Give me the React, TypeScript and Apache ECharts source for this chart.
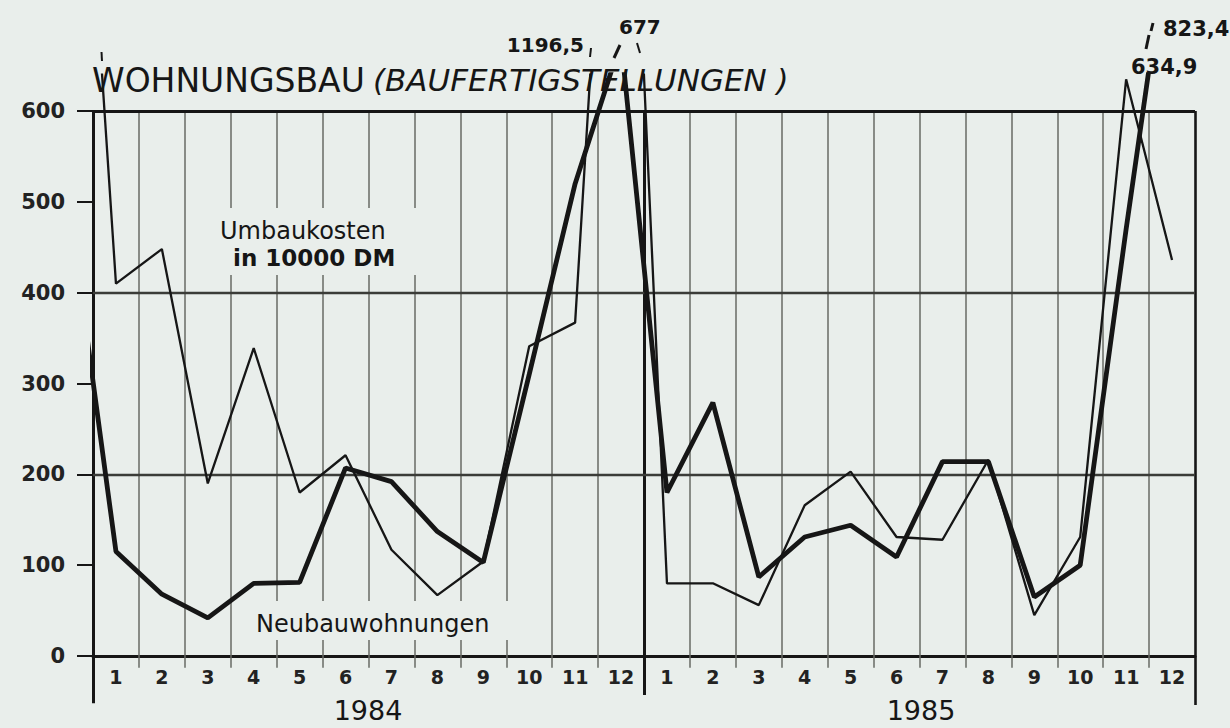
import React, { useEffect, useRef } from 'react';
import * as echarts from 'echarts';

// Months shown on the x axis (1984 then 1985)
const monthLabels = ['1','2','3','4','5','6','7','8','9','10','11','12','1','2','3','4','5','6','7','8','9','10','11','12'];
const yearLabels = ['1984', '1985'];
const yTicks = [0, 100, 200, 300, 400, 500, 600];
const yGridValues = [200, 400, 600];

// Index 0 = December 1983 (runs in from the left edge), 1..24 = Jan 1984 .. Dec 1985
const neubauwohnungen = [490, 115, 68, 42, 80, 81, 207, 192, 137, 103, 310, 520, 677, 180, 279, 87, 131, 144, 109, 214, 214, 65, 100, 470, 823.4];
const umbaukosten = [1170, 410, 448, 190, 339, 180, 221, 117, 67, 104, 341, 367, 1196.5, 80, 80, 56, 166, 203, 131, 128, 216, 45, 131, 634.9, 436];

const offScaleNotes = ['1196,5', '677', '634,9', '823,4'];

const BG = '#e9eeeb';
const INK = '#161616';
const GRID = '#676a64';
const FONT = '"DejaVu Sans", "Liberation Sans", sans-serif';

const Y_MIN = -60;
const Y_MAX = 640;
const GRID_TOP = 74.67;
const GRID_BOTTOM = 17.5;

export default function App() {
  const ref = useRef<HTMLDivElement>(null);

  useEffect(() => {
    const chart = echarts.init(ref.current!, null, { renderer: 'svg' });

    const bounds = Array.from({ length: monthLabels.length + 1 }, (_, i) => i + 0.5);
    const last = bounds.length - 1;
    const half = monthLabels.length / 2;
    const xMin = bounds[0];
    const xMax = bounds[last];
    const yTop = yTicks[yTicks.length - 1];

    // pixel distance between the grid bottom (Y_MIN) and the zero line
    const gridHeight = 728 - GRID_TOP - GRID_BOTTOM;
    const zeroOffset = (-Y_MIN / (Y_MAX - Y_MIN)) * gridHeight;

    const vLines = bounds.map((b, i) => {
      const isLeft = i === 0;
      const isYear = i === half;
      const isRight = i === last;
      const bottom = isLeft ? -52 : isRight ? -54 : isYear ? -43 : -13;
      const width = isLeft || isYear ? 3 : isRight ? 2.6 : 1.5;
      const color = isLeft || isYear || isRight ? INK : GRID;
      return [
        { coord: [b, bottom], lineStyle: { width, color, type: 'solid' } },
        { coord: [b, yTop] },
      ];
    });
    const hLines = yGridValues.map((v) => [
      { coord: [xMin, v], lineStyle: { width: v === yTop ? 3 : 2.4, color: v === yTop ? INK : '#3b3c38', type: 'solid' } },
      { coord: [xMax, v] },
    ]);

    const txt = (text: string, x: number, y: number, font: string, align = 'left', z = 10) => ({
      type: 'text',
      x,
      y,
      z,
      silent: true,
      style: {
        text,
        font,
        fill: INK,
        align,
        verticalAlign: 'middle',
        textAlign: align,
        textVerticalAlign: 'middle',
      },
    });
    const mark = (x1: number, y1: number, x2: number, y2: number, w = 2.5) => ({
      type: 'line',
      z: 10,
      silent: true,
      shape: { x1, y1, x2, y2 },
      style: { stroke: INK, lineWidth: w },
    });

    chart.setOption({
      animation: false,
      backgroundColor: BG,
      grid: {
        left: 93,
        right: 35,
        top: GRID_TOP,
        bottom: GRID_BOTTOM,
        containLabel: false,
        outerBoundsMode: 'none',
      },
      xAxis: {
        type: 'value',
        min: xMin,
        max: xMax,
        position: 'bottom',
        offset: -zeroOffset,
        axisLine: { show: true, onZero: false, lineStyle: { color: INK, width: 3 } },
        axisTick: { show: false },
        splitLine: { show: false },
        axisLabel: {
          customValues: monthLabels.map((_, i) => i + 1),
          formatter: (v: number) => monthLabels[Math.round(v) - 1] ?? '',
          fontFamily: FONT,
          fontSize: 19,
          fontWeight: 'bold',
          color: '#222',
          margin: 11,
        },
      },
      yAxis: {
        type: 'value',
        min: Y_MIN,
        max: Y_MAX,
        axisLine: { show: false },
        splitLine: { show: false },
        axisTick: {
          show: true,
          customValues: yTicks,
          length: 16,
          inside: false,
          lineStyle: { color: INK, width: 2 },
        },
        axisLabel: {
          customValues: yTicks,
          fontFamily: FONT,
          fontSize: 21,
          fontWeight: 'bold',
          color: '#222',
          margin: 28,
        },
      },
      series: [
        {
          type: 'line',
          name: 'Raster',
          data: [],
          silent: true,
          z: 1,
          markLine: {
            silent: true,
            z: 1,
            animation: false,
            symbol: ['none', 'none'],
            label: { show: false },
            emphasis: { disabled: true },
            data: [...vLines, ...hLines],
          },
        },
        {
          type: 'line',
          name: 'Umbaukosten in 10000 DM',
          data: umbaukosten.map((v, i) => [i, v]),
          symbol: 'none',
          showSymbol: false,
          clip: true,
          z: 6,
          silent: true,
          lineStyle: { width: 2.3, color: INK },
          emphasis: { disabled: true },
        },
        {
          type: 'line',
          name: 'Neubauwohnungen',
          data: neubauwohnungen.map((v, i) => [i, v]),
          symbol: 'none',
          showSymbol: false,
          clip: true,
          z: 7,
          silent: true,
          lineStyle: { width: 4.8, color: INK },
          emphasis: { disabled: true },
        },
      ],
      graphic: [
        // label backgrounds that mask the grid lines
        { type: 'rect', z: 3, silent: true, shape: { x: 214, y: 208, width: 206, height: 67 }, style: { fill: BG } },
        { type: 'rect', z: 3, silent: true, shape: { x: 250, y: 601, width: 262, height: 39 }, style: { fill: BG } },
        txt('Umbaukosten', 220, 231, `normal 24px ${FONT}`, 'left', 4),
        txt('in 10000 DM', 233, 258, `bold 23px ${FONT}`, 'left', 4),
        txt('Neubauwohnungen', 256, 624, `normal 24px ${FONT}`, 'left', 4),
        // title
        txt('WOHNUNGSBAU', 92, 80, `normal 33px ${FONT}`),
        txt('(BAUFERTIGSTELLUNGEN )', 373, 80, `italic 31px ${FONT}`),
        // years
        txt(yearLabels[0], 368, 710, `normal 27px ${FONT}`, 'center'),
        txt(yearLabels[1], 921, 710, `normal 27px ${FONT}`, 'center'),
        // off-scale values
        txt(offScaleNotes[0], 584, 45, `bold 20px ${FONT}`, 'right'),
        txt(offScaleNotes[1], 619, 27, `bold 20px ${FONT}`),
        txt(offScaleNotes[2], 1131, 67, `bold 21px ${FONT}`),
        txt(offScaleNotes[3], 1163, 29, `bold 21px ${FONT}`),
        // break marks
        mark(591, 48, 590, 57, 2),
        mark(620, 45, 614, 58, 3),
        mark(637, 43, 640, 53, 2),
        mark(1153, 23, 1151, 31, 3),
        mark(1149, 35, 1146, 49, 3),
        mark(101.5, 52, 102, 61, 2),
      ],
    });

    return () => chart.dispose();
  }, []);

  return (
    <div
      ref={ref}
      style={{ position: 'absolute', left: 0, top: 0, width: 1230, height: 728, background: BG }}
    />
  );
}
